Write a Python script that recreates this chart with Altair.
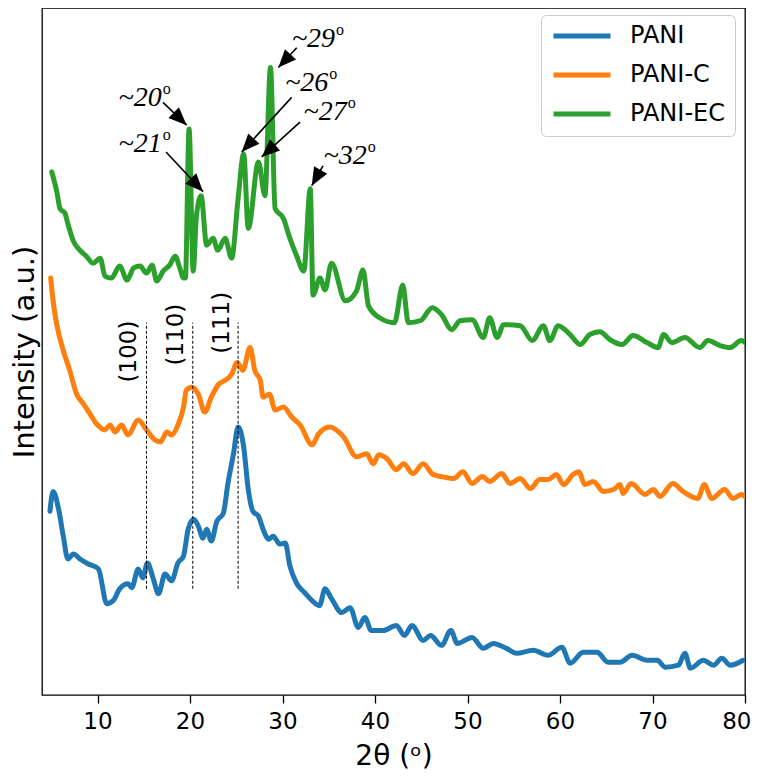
import math
import altair as alt
import pandas as pd

# ---------------- data ----------------
samples = ["PANI", "PANI-C", "PANI-EC"]
colors = ["#1f77b4", "#ff7f0e", "#2ca02c"]

pani_x = [4.86, 5.2, 5.8, 6.3, 6.8, 7.4, 8.1, 9.0, 10.1, 11.0, 11.7, 12.4, 13.3, 13.7, 14.4,
          14.9, 15.4, 16.0, 16.6, 17.3, 18.0, 18.7, 19.3, 19.8, 20.4, 20.9, 21.4, 21.8, 22.3,
          22.9, 23.6, 24.1, 24.7, 25.2, 25.8, 26.3, 26.8, 27.4, 27.9, 28.5, 29.0, 29.7, 30.3,
          30.8, 31.5, 32.4, 33.2, 34.0, 34.6, 35.3, 36.4, 37.3, 38.2, 38.9, 39.6, 40.9, 42.3,
          43.2, 44.0, 45.2, 46.0, 47.2, 48.2, 48.9, 50.5, 51.7, 52.8, 54.2, 55.3, 57.1, 58.7,
          60.2, 61.1, 62.5, 64.0, 65.2, 66.5, 67.8, 69.4, 70.5, 71.4, 72.8, 73.5, 74.1, 75.5,
          76.6, 77.5, 78.4, 79.8]
pani_y = [185, 205, 187, 160, 137, 142, 137, 132, 127, 92, 95, 107, 112, 108, 127,
          118, 133, 118, 102, 122, 115, 133, 140, 167, 177, 170, 158, 167, 155,
          175, 183, 213, 243, 270, 250, 207, 185, 180, 167, 157, 160, 152, 153,
          130, 113, 103, 95, 90, 107, 97, 83, 88, 68, 78, 65, 65, 70,
          60, 70, 55, 60, 50, 65, 52, 58, 47, 52, 47, 42, 45, 40,
          48, 32, 43, 43, 33, 33, 40, 35, 35, 28, 30, 42, 27, 35,
          30, 37, 30, 35]

panic_x = [4.94, 5.2, 5.6, 6.3, 7.0, 7.75, 8.5, 9.2, 9.9, 10.8, 11.35, 11.9, 12.6, 13.3, 14.4,
           15.3, 16.2, 16.8, 17.5, 18.0, 18.7, 19.3, 19.6, 20.2, 20.9, 21.6, 22.3, 23.1, 23.8,
           24.5, 25.1, 25.7, 26.5, 27.0, 27.6, 27.9, 28.6, 29.2, 30.1, 31.0, 31.9, 33.2, 33.9,
           35.1, 36.6, 38.0, 39.1, 39.8, 40.4, 41.3, 42.3, 43.1, 44.1, 45.2, 46.3, 47.2, 48.5,
           49.5, 50.5, 51.6, 52.4, 53.7, 54.6, 55.7, 56.8, 57.8, 58.7, 59.6, 60.4, 61.4, 62.0,
           62.7, 63.6, 64.7, 65.8, 66.5, 66.8, 67.7, 69.2, 70.1, 70.8, 72.2, 73.3, 74.9, 75.6,
           76.4, 77.8, 78.7, 79.6, 80.0]
panic_y = [420, 397, 373, 347, 327, 303, 293, 283, 273, 267, 272, 265, 272, 262, 277,
           267, 257, 255, 265, 262, 272, 290, 307, 310, 303, 285, 300, 313, 317,
           323, 335, 327, 350, 327, 317, 300, 303, 287, 290, 280, 272, 252, 263,
           270, 260, 240, 243, 233, 242, 238, 227, 233, 223, 233, 222, 220, 218,
           225, 213, 220, 215, 223, 213, 218, 208, 217, 217, 222, 212, 222, 225,
           212, 215, 205, 207, 212, 203, 213, 202, 207, 200, 213, 205, 198, 212,
           198, 207, 198, 202, 200]

paniec_x = [5.05, 5.6, 5.95, 6.5, 6.7, 7.4, 8.1, 8.8, 9.5, 10.3, 10.8, 11.5, 12.4, 13.2, 13.9,
            14.6, 15.3, 15.9, 16.4, 17.1, 17.8, 18.4, 18.9, 19.3, 19.5, 19.9, 20.35, 20.7, 21.2,
            21.8, 22.5, 23.0, 23.8, 24.5, 25.2, 25.8, 26.3, 27.4, 28.1, 28.7, 29.2, 30.1, 30.8,
            31.5, 32.3, 33.0, 33.3, 34.05, 34.6, 35.3, 36.8, 38.0, 38.7, 39.3, 40.5, 42.1, 43.0,
            43.6, 44.9, 46.2, 47.2, 48.3, 49.2, 50.5, 51.7, 52.4, 53.2, 53.9, 55.7, 57.0, 58.2,
            58.9, 59.8, 61.1, 62.2, 63.2, 64.3, 65.4, 66.7, 67.9, 69.4, 70.6, 71.2, 72.1, 73.5,
            75.1, 76.0, 77.3, 78.4, 79.6, 80.0]
paniec_y = [527, 507, 490, 485, 478, 457, 448, 442, 435, 440, 422, 420, 432, 418, 430,
            432, 425, 433, 417, 427, 433, 442, 430, 420, 420, 570, 427, 483, 503,
            453, 460, 448, 460, 440, 500, 545, 470, 537, 503, 632, 490, 480, 460,
            443, 427, 510, 403, 420, 408, 435, 397, 407, 428, 392, 380, 375, 413,
            375, 377, 390, 383, 368, 377, 378, 360, 380, 360, 373, 372, 357, 372,
            357, 372, 363, 353, 363, 366, 358, 353, 362, 355, 350, 363, 355, 360,
            350, 357, 352, 350, 357, 355]

# Miller-index reference lines
hkl_labels = ["(100)", "(110)", "(111)"]
hkl_pos = [15.3, 20.3, 25.2]
hkl_lo = [107, 107, 107]
hkl_hi = [375, 375, 375]
hkl_text_x = [13.41, 18.54, 23.41]
hkl_text_y = [346, 363, 375]

# Peak annotations: text anchor, arrow start, arrow tip
peak_labels = ["~20", "~21", "~29", "~26", "~27", "~32"]
peak_text_x = [16.94, 16.94, 35.68, 34.95, 36.94, 39.1]
peak_text_y = [593, 547, 653, 608, 579, 535]
arrow_from_x = [17.08, 17.41, 31.54, 30.99, 31.89, 34.38]
arrow_from_y = [597, 547, 652, 602, 577, 533]
arrow_to_x = [19.64, 21.41, 29.55, 25.59, 27.75, 33.16]
arrow_to_y = [574, 507, 632, 547, 542, 513]

x_min, x_max = 4, 80
y_min, y_max = 0, 692
W, H = 703, 687

# ---------------- tables ----------------
rows = []
for name, xs, ys in [("PANI", pani_x, pani_y), ("PANI-C", panic_x, panic_y), ("PANI-EC", paniec_x, paniec_y)]:
    for a, b in zip(xs, ys):
        rows.append({"theta": a, "intensity": b, "sample": name})
df = pd.DataFrame(rows)

hkl_df = pd.DataFrame({"theta": hkl_pos, "intensity": hkl_lo, "intensity2": hkl_hi})
hkl_txt = pd.DataFrame({"theta": hkl_text_x, "intensity": hkl_text_y, "label": hkl_labels})

px_x = W / (x_max - x_min)
px_y = H / (y_max - y_min)
angles = []
for sx, sy, tx, ty in zip(arrow_from_x, arrow_from_y, arrow_to_x, arrow_to_y):
    dx = (tx - sx) * px_x
    dy = -(ty - sy) * px_y
    angles.append(math.degrees(math.atan2(dx, -dy)) % 360)

ann_df = pd.DataFrame({"theta": peak_text_x, "intensity": peak_text_y, "label": peak_labels,
                       "sup": ["o"] * len(peak_labels)})
arr_df = pd.DataFrame({"theta": arrow_from_x, "intensity": arrow_from_y,
                       "theta2": arrow_to_x, "intensity2": arrow_to_y})
head_df = pd.DataFrame({"theta": arrow_to_x, "intensity": arrow_to_y, "ang": angles})

# ---------------- chart ----------------
xs = alt.Scale(domain=[x_min, x_max], nice=False, zero=False)
ys = alt.Scale(domain=[y_min, y_max], nice=False, zero=False)

X = alt.X("theta:Q", scale=xs,
          axis=alt.Axis(values=list(range(10, 81, 10)), title="2θ (ᵒ)", tickSize=8,
                        tickWidth=1.3, tickColor="black", labelPadding=7, titlePadding=9,
                        labelFlush=True, labelFlushOffset=6, labelFont="DejaVu Sans",
                        labelFontSize=23, labelColor="black", titleFont="DejaVu Sans",
                        titleFontSize=28, titleFontWeight="normal", titleColor="black",
                        grid=False, domain=False))
Y = alt.Y("intensity:Q", scale=ys,
          axis=alt.Axis(labels=False, ticks=False, title="Intensity (a.u.)", titlePadding=3,
                        titleFont="DejaVu Sans", titleFontSize=29, titleFontWeight="normal",
                        titleColor="black", grid=False, domain=False))

lines = alt.Chart(df).mark_line(strokeWidth=5, strokeJoin="round", strokeCap="round",
                                interpolate="monotone", clip=True).encode(
    x=X, y=Y,
    color=alt.Color("sample:N", scale=alt.Scale(domain=samples, range=colors),
                    legend=alt.Legend(title=None, orient="none", legendX=499, legendY=7,
                                      symbolType="stroke", symbolSize=3249, symbolStrokeWidth=5,
                                      labelFontSize=24, labelFont="DejaVu Sans", labelColor="black",
                                      labelOffset=17, padding=10, rowPadding=15, clipHeight=22,
                                      fillColor="white", strokeColor="#cccccc", cornerRadius=5,
                                      labelLimit=300)),
    order=alt.Order("theta:Q"),
)

rules = alt.Chart(hkl_df).mark_rule(color="black", strokeWidth=1, strokeDash=[3, 2]).encode(
    x="theta:Q", y="intensity:Q", y2="intensity2:Q")

hkl_text = alt.Chart(hkl_txt).mark_text(angle=270, font="DejaVu Sans", fontSize=23, color="black",
                                         align="center", baseline="middle").encode(
    x="theta:Q", y="intensity:Q", text="label:N")

shafts = alt.Chart(arr_df).mark_rule(color="black", strokeWidth=1.6).encode(
    x="theta:Q", y="intensity:Q", x2="theta2:Q", y2="intensity2:Q")

heads = alt.Chart(head_df).mark_point(shape="M0,0L0.42,1L-0.42,1Z", size=1296, filled=True,
                                      color="black", opacity=1, strokeWidth=0).encode(
    x="theta:Q", y="intensity:Q", angle=alt.Angle("ang:Q", scale=None))

ann_text = alt.Chart(ann_df).mark_text(font="Liberation Serif", fontStyle="italic", fontSize=28,
                                       color="black", align="right", baseline="alphabetic").encode(
    x="theta:Q", y="intensity:Q", text="label:N")

ann_sup = alt.Chart(ann_df).mark_text(font="Liberation Serif", fontSize=16, color="black",
                                      align="left", baseline="alphabetic", dx=1, dy=-12).encode(
    x="theta:Q", y="intensity:Q", text="sup:N")

chart = alt.layer(lines, rules, hkl_text, shafts, heads, ann_text, ann_sup).properties(
    width=W, height=H,
    autosize=alt.AutoSizeParams(type="none"),
    padding={"left": 34, "top": 0, "right": 8, "bottom": 80},
).configure_view(stroke="black", strokeWidth=1.3)

chart.save("out.html", embed_options={"renderer": "svg", "actions": False})
